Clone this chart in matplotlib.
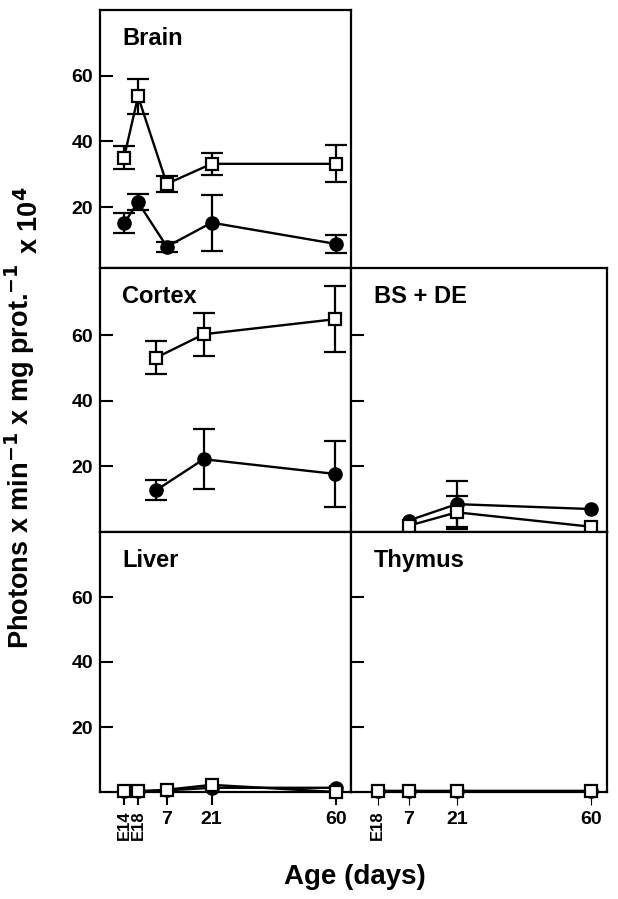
import matplotlib
matplotlib.use("Agg")
import matplotlib.pyplot as plt

plt.rcParams['font.family'] = ['Liberation Sans', 'DejaVu Sans']
plt.rcParams['font.weight'] = 'bold'

# ---- data ----
age_labels = ["E14", "E18", "7", "21", "60"]
age_pos = [-6.4, -2.0, 7, 21, 60]

brain_sq = [35.0, 53.7, 27.1, 33.2, 33.2]
brain_sq_err = [3.5, 5.3, 2.5, 3.3, 5.6]
brain_ci = [15.1, 21.5, 8.0, 15.3, 8.8]
brain_ci_err = [3.0, 2.5, 1.5, 8.5, 2.8]

post_pos = [7, 21, 60]
cortex_sq = [53.2, 60.3, 64.9]
cortex_sq_err = [4.9, 6.6, 10.1]
cortex_ci = [12.8, 22.2, 17.7]
cortex_ci_err = [3.0, 9.1, 10.2]

bsde_sq = [1.9, 6.0, 1.6]
bsde_sq_err = [0.0, 5.1, 0.0]
bsde_ci = [3.5, 8.5, 7.0]
bsde_ci_err = [0.0, 7.0, 0.0]

liver_sq = [0.2, 0.2, 0.7, 2.2, 0.0]
liver_ci = [0.2, 0.2, 0.5, 1.3, 1.3]

thymus_labels = ["E18", "7", "21", "60"]
thymus_pos = [-2.0, 7, 21, 60]
thymus_sq = [0.3, 0.3, 0.3, 0.3]
thymus_ci = [0.2, 0.2, 0.2, 0.2]

yticks = [20, 40, 60]

W, H = 618, 899
fig = plt.figure(figsize=(W / 100, H / 100), dpi=100)
fig.patch.set_facecolor('white')


def make_ax(x0, y0, x1, y1):
    return fig.add_axes([x0 / W, 1 - y1 / H, (x1 - x0) / W, (y1 - y0) / H])


def style(ax, title, xlim, ylim, ylabels):
    ax.set_xlim(*xlim)
    ax.set_ylim(*ylim)
    for s in ax.spines.values():
        s.set_linewidth(1.6)
    ax.set_yticks(yticks)
    ax.tick_params(axis='y', direction='in', length=9, width=1.5, pad=5,
                   labelsize=14, left=True, right=False, labelleft=ylabels)
    for t in ax.get_yticklabels():
        t.set_fontweight('bold')
    ax.set_xticks([])
    ax.text(22 / 250, 1 - 17 / 262, title, transform=ax.transAxes,
            fontsize=17, fontweight='bold', ha='left', va='top')


def errs(ax, x, y, e, z):
    if e is None:
        return
    xs = [a for a, b in zip(x, e) if b > 0]
    ys = [a for a, b in zip(y, e) if b > 0]
    es = [b for b in e if b > 0]
    if xs:
        ax.errorbar(xs, ys, yerr=es, fmt='none', ecolor='black', capsize=8,
                    capthick=1.6, elinewidth=1.6, zorder=z, clip_on=False)


def series(ax, x, sq, ci, sq_err=None, ci_err=None):
    errs(ax, x, ci, ci_err, 2.5)
    ax.plot(x, ci, '-o', color='black', lw=1.7, ms=9.5, mfc='black',
            mec='black', zorder=3, clip_on=False)
    errs(ax, x, sq, sq_err, 3.5)
    ax.plot(x, sq, '-s', color='black', lw=1.7, ms=8.5, mfc='white',
            mec='black', mew=1.6, zorder=4, clip_on=False)


xl_left = (-13.9, 64.6)
xl_right = (-9.7, 64.6)

ax_brain = make_ax(100, 10, 351, 268)
style(ax_brain, 'Brain', xl_left, (1.5, 80), True)
series(ax_brain, age_pos, brain_sq, brain_ci, brain_sq_err, brain_ci_err)

ax_cortex = make_ax(100, 268, 351, 532)
style(ax_cortex, 'Cortex', xl_right, (0, 80.5), True)
series(ax_cortex, post_pos, cortex_sq, cortex_ci, cortex_sq_err, cortex_ci_err)

ax_bsde = make_ax(351, 268, 607, 532)
style(ax_bsde, 'BS + DE', xl_right, (0, 80.5), False)
series(ax_bsde, post_pos, bsde_sq, bsde_ci, bsde_sq_err, bsde_ci_err)

ax_liver = make_ax(100, 532, 351, 792)
style(ax_liver, 'Liver', xl_left, (0, 80), True)
series(ax_liver, age_pos, liver_sq, liver_ci)
ax_liver.set_xticks(age_pos)
ax_liver.set_xticklabels(age_labels)
ax_liver.tick_params(axis='x', direction='out', length=9.5, width=1.5, pad=4,
                     labelsize=14)
for t, lab in zip(ax_liver.get_xticklabels(), age_labels):
    t.set_fontweight('bold')
    if lab.startswith('E'):
        t.set_rotation(90)
        t.set_fontsize(12)
        t.set_va('top')

ax_thy = make_ax(351, 532, 607, 792)
style(ax_thy, 'Thymus', xl_right, (0, 80), False)
series(ax_thy, thymus_pos, thymus_sq, thymus_ci)
ax_thy.set_xticks(thymus_pos)
ax_thy.set_xticklabels(thymus_labels)
ax_thy.tick_params(axis='x', direction='out', length=9.5, width=0.8, pad=4,
                   labelsize=14)
for t, lab in zip(ax_thy.get_xticklabels(), thymus_labels):
    t.set_fontweight('bold')
    if lab.startswith('E'):
        t.set_rotation(90)
        t.set_fontsize(12)
        t.set_va('top')

# axis labels
fig.text(355 / W, 1 - 877 / H, 'Age (days)', fontsize=20, fontweight='bold',
         ha='center', va='center')
fig.text(20 / W, 1 - 263 / H, r'Photons x min$^{\mathbf{-1}}$ x mg prot.$^{\mathbf{-1}}$',
         rotation=90, fontsize=19.5, fontweight='bold', ha='center', va='top')
fig.text(30 / W, 1 - 187 / H, r'x 10$^{\mathbf{4}}$', rotation=90, fontsize=19.5,
         fontweight='bold', ha='center', va='top')

fig.savefig('out.png', dpi=100, facecolor='white')
